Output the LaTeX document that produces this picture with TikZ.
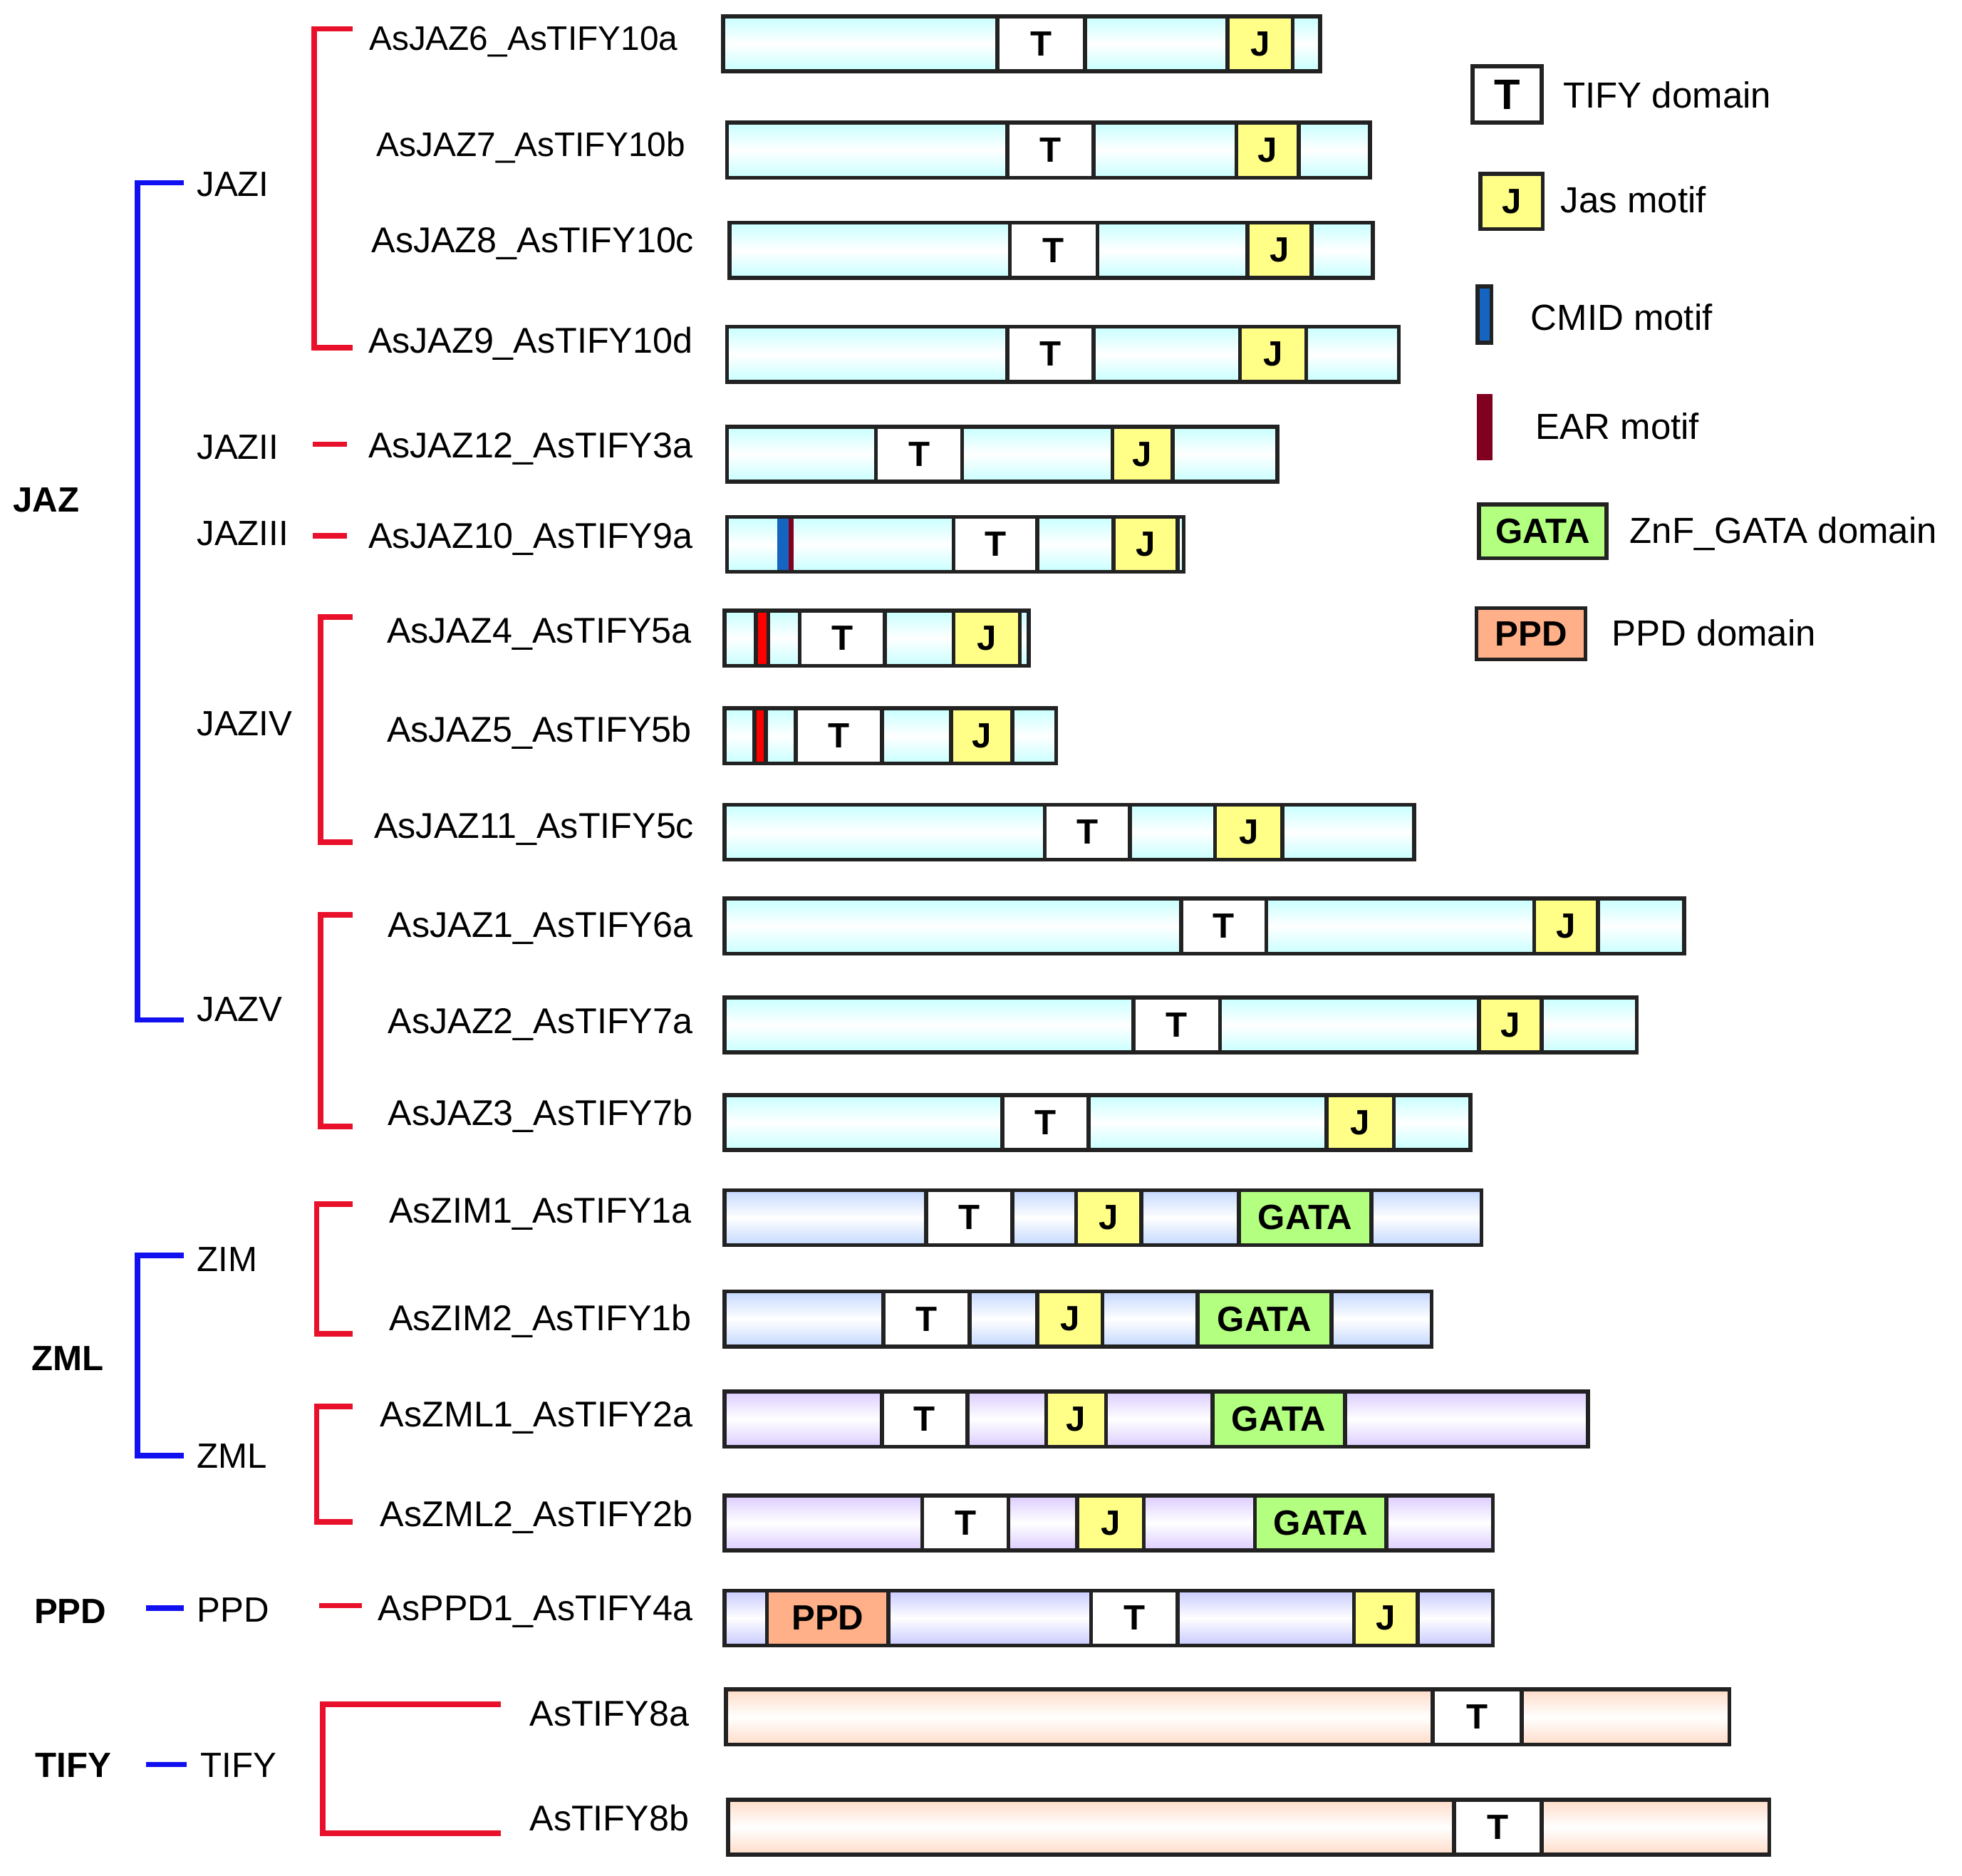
\documentclass[tikz,border=0pt]{standalone}
\usepackage{fontspec}
\setmainfont{Liberation Sans}
\definecolor{jazc}{HTML}{C8FFFF}
\definecolor{zimc}{HTML}{C4D8FF}
\definecolor{zmlc}{HTML}{DCCCFF}
\definecolor{ppdbarc}{HTML}{C8CAFF}
\definecolor{tifyc}{HTML}{FFDCC8}
\definecolor{jcol}{HTML}{FFFF88}
\definecolor{gatac}{HTML}{B3FF80}
\definecolor{ppdc}{HTML}{FFB088}
\definecolor{treered}{HTML}{E8102A}
\definecolor{treeblue}{HTML}{1010F0}
\definecolor{cmidc}{HTML}{1565C0}
\definecolor{earc}{HTML}{800020}
\definecolor{framec}{HTML}{222222}
\tikzset{
  frame/.style={draw=framec, line width=1.6pt},
  jazbar/.style={top color=jazc, bottom color=jazc, middle color=white},
  zimbar/.style={top color=zimc, bottom color=zimc, middle color=white},
  zmlbar/.style={top color=zmlc, bottom color=zmlc, middle color=white},
  ppdbar/.style={top color=ppdbarc, bottom color=ppdbarc, middle color=white},
  tifybar/.style={top color=tifyc, bottom color=tifyc, middle color=white},
  dtext/.style={font=\fontsize{14}{16}\selectfont\bfseries, inner sep=0},
  lab/.style={anchor=base east, font=\fontsize{14.3}{17}\selectfont, inner sep=0},
  labsmall/.style={anchor=base east, font=\fontsize{13.6}{16}\selectfont, inner sep=0},
  grp/.style={anchor=base west, font=\fontsize{14}{16}\selectfont, inner sep=0},
  fam/.style={anchor=base west, font=\fontsize{14}{16}\selectfont\bfseries, inner sep=0},
  leg/.style={anchor=base west, font=\fontsize{14.5}{17}\selectfont, inner sep=0},
  rtree/.style={draw=treered, line width=2.2pt},
  btree/.style={draw=treeblue, line width=2.2pt},
}
% #1 ytop, #2 x0, #3 x1, #4 style
\newcommand{\pbar}[4]{\shade[#4] (#2,#1) rectangle (#3,{#1+44});}
\newcommand{\pframe}[3]{\draw[frame] (#2,#1) rectangle (#3,{#1+44});}
% #1 ytop, #2 x0, #3 x1, #4 fill, #5 text
\newcommand{\dbox}[5]{\draw[frame, fill=#4] (#2,#1) rectangle (#3,{#1+44});
  \node[dtext] at ({(#2+#3)/2},{#1+22}) {#5};}
\newcommand{\motifbox}[4]{\draw[frame, fill=#4] (#2,#1) rectangle (#3,{#1+44});}
\begin{document}
\begin{tikzpicture}[x=0.017564cm, y=-0.017564cm]
\useasboundingbox (0,0) rectangle (1568,1499);

% ---------- bars ----------
\pbar{13}{578}{1055}{jazbar}\dbox{13}{797}{867}{white}{T}\dbox{13}{981}{1033}{jcol}{J}\pframe{13}{578}{1055}
\pbar{98}{581}{1095}{jazbar}\dbox{98}{805}{874}{white}{T}\dbox{98}{988}{1038}{jcol}{J}\pframe{98}{581}{1095}
\pbar{178}{583}{1097}{jazbar}\dbox{178}{807}{877}{white}{T}\dbox{178}{997}{1048}{jcol}{J}\pframe{178}{583}{1097}
\pbar{261}{581}{1118}{jazbar}\dbox{261}{805}{874}{white}{T}\dbox{261}{991}{1044}{jcol}{J}\pframe{261}{581}{1118}
\pbar{341}{581}{1021}{jazbar}\dbox{341}{700}{769}{white}{T}\dbox{341}{889}{937}{jcol}{J}\pframe{341}{581}{1021}
% R6
\pbar{413}{581}{946}{jazbar}
\fill[cmidc] (621,413) rectangle (630,457);
\fill[earc] (630,413) rectangle (634,457);
\dbox{413}{762}{829}{white}{T}\dbox{413}{890}{941}{jcol}{J}\pframe{413}{581}{946}
% R7
\pbar{488}{579}{822}{jazbar}\motifbox{488}{604}{614}{red}
\dbox{488}{639}{707}{white}{T}\dbox{488}{762}{815}{jcol}{J}\pframe{488}{579}{822}
% R8
\pbar{566}{579}{844}{jazbar}\motifbox{566}{603}{612}{red}
\dbox{566}{636}{705}{white}{T}\dbox{566}{760}{809}{jcol}{J}\pframe{566}{579}{844}
% R9-12
\pbar{643}{579}{1130}{jazbar}\dbox{643}{835}{903}{white}{T}\dbox{643}{971}{1025}{jcol}{J}\pframe{643}{579}{1130}
\pbar{718}{579}{1346}{jazbar}\dbox{718}{944}{1012}{white}{T}\dbox{718}{1226}{1277}{jcol}{J}\pframe{718}{579}{1346}
\pbar{797}{579}{1308}{jazbar}\dbox{797}{906}{975}{white}{T}\dbox{797}{1182}{1232}{jcol}{J}\pframe{797}{579}{1308}
\pbar{875}{579}{1175}{jazbar}\dbox{875}{801}{870}{white}{T}\dbox{875}{1060}{1114}{jcol}{J}\pframe{875}{579}{1175}
% ZIM
\pbar{951}{579}{1184}{zimbar}\dbox{951}{740}{809}{white}{T}\dbox{951}{860}{912}{jcol}{J}\dbox{951}{990}{1096}{gatac}{GATA}\pframe{951}{579}{1184}
\pbar{1032}{579}{1144}{zimbar}\dbox{1032}{706}{775}{white}{T}\dbox{1032}{829}{881}{jcol}{J}\dbox{1032}{957}{1064}{gatac}{GATA}\pframe{1032}{579}{1144}
% ZML
\pbar{1112}{579}{1269}{zmlbar}\dbox{1112}{705}{773}{white}{T}\dbox{1112}{836}{884}{jcol}{J}\dbox{1112}{969}{1075}{gatac}{GATA}\pframe{1112}{579}{1269}
\pbar{1195}{579}{1193}{zmlbar}\dbox{1195}{737}{806}{white}{T}\dbox{1195}{861}{914}{jcol}{J}\dbox{1195}{1003}{1108}{gatac}{GATA}\pframe{1195}{579}{1193}
% PPD
\pbar{1271}{579}{1193}{ppdbar}\dbox{1271}{613}{710}{ppdc}{PPD}\dbox{1271}{872}{941}{white}{T}\dbox{1271}{1082}{1133}{jcol}{J}\pframe{1271}{579}{1193}
% TIFY
\pbar{1350}{580}{1382}{tifybar}\dbox{1350}{1145}{1216}{white}{T}\pframe{1350}{580}{1382}
\pbar{1438}{582}{1414}{tifybar}\dbox{1438}{1162}{1232}{white}{T}\pframe{1438}{582}{1414}

% ---------- gene labels ----------
\node[labsmall] (g1) at (542,40) {AsJAZ6\_AsTIFY10a};
\node[labsmall] (g2) at (548,125) {AsJAZ7\_AsTIFY10b};
\node[lab] (g3) at (555,202) {AsJAZ8\_AsTIFY10c};
\node[lab] (g4) at (554,282) {AsJAZ9\_AsTIFY10d};
\node[lab] (g5) at (554,366) {AsJAZ12\_AsTIFY3a};
\node[lab] (g6) at (554,438) {AsJAZ10\_AsTIFY9a};
\node[lab] (g7) at (553,514) {AsJAZ4\_AsTIFY5a};
\node[lab] (g8) at (553,593) {AsJAZ5\_AsTIFY5b};
\node[lab] (g9) at (555,670) {AsJAZ11\_AsTIFY5c};
\node[lab] (g10) at (554,749) {AsJAZ1\_AsTIFY6a};
\node[lab] (g11) at (554,826) {AsJAZ2\_AsTIFY7a};
\node[lab] (g12) at (554,899) {AsJAZ3\_AsTIFY7b};
\node[lab] (g13) at (553,977) {AsZIM1\_AsTIFY1a};
\node[lab] (g14) at (553,1063) {AsZIM2\_AsTIFY1b};
\node[lab] (g15) at (554,1140) {AsZML1\_AsTIFY2a};
\node[lab] (g16) at (554,1220) {AsZML2\_AsTIFY2b};
\node[lab] (g17) at (554,1295) {AsPPD1\_AsTIFY4a};
\node[lab] (g18) at (551,1379) {AsTIFY8a};
\node[lab] (g19) at (551,1463) {AsTIFY8b};

% ---------- group labels ----------
\node[grp] (jaz1) at (157,157) {JAZI};
\node[grp] (jaz2) at (157,367) {JAZII};
\node[grp] (jaz3) at (157,436) {JAZIII};
\node[grp] (jaz4) at (157,588) {JAZIV};
\node[grp] (jaz5) at (157,816) {JAZV};
\node[grp] (zim) at (157,1016) {ZIM};
\node[grp] (zml) at (157,1173) {ZML};
\node[grp] (ppd) at (157,1296) {PPD};
\node[grp] (tify) at (160,1420) {TIFY};
\node[fam] (fjaz) at (10,409) {JAZ};
\node[fam] (fzml) at (25,1095) {ZML};
\node[fam] (fppd) at (27,1297) {PPD};
\node[fam] (ftify) at (28,1420) {TIFY};

% ---------- tree lines ----------
\draw[btree] (147,146) -- (110,146) -- (110,815) -- (147,815);
\draw[rtree] (282,23) -- (251,23) -- (251,278) -- (282,278);
\draw[rtree] (250,355) -- (277,355);
\draw[rtree] (250,428) -- (277,428);
\draw[rtree] (282,493) -- (256,493) -- (256,673) -- (282,673);
\draw[rtree] (282,731) -- (256,731) -- (256,900) -- (282,900);
\draw[btree] (147,1003) -- (110,1003) -- (110,1163) -- (147,1163);
\draw[rtree] (282,962) -- (253,962) -- (253,1066) -- (282,1066);
\draw[rtree] (282,1124) -- (253,1124) -- (253,1216) -- (282,1216);
\draw[btree] (117,1285) -- (147,1285);
\draw[rtree] (255,1283) -- (289,1283);
\draw[btree] (117,1410) -- (149,1410);
\draw[rtree] (400,1362) -- (258,1362) -- (258,1465) -- (400,1465);

% ---------- legend ----------
\draw[frame] (1177,53) rectangle (1232,98);
\node[font=\fontsize{17}{19}\selectfont\bfseries, inner sep=0] (lt) at (1204.5,75.5) {T};
\node[leg] (ltt) at (1249,86) {TIFY domain};
\draw[frame, fill=jcol] (1183,139) rectangle (1233,183);
\node[dtext] (lj) at (1208,161) {J};
\node[leg] (ljt) at (1247,170) {Jas motif};
\draw[frame, fill=cmidc] (1181,229) rectangle (1192,274);
\node[leg] (lct) at (1223,264) {CMID motif};
\fill[earc] (1180,315) rectangle (1193,368);
\node[leg] (let) at (1227,351) {EAR motif};
\draw[frame, fill=gatac] (1182,403) rectangle (1284,446);
\node[dtext] (lg) at (1233,424.5) {GATA};
\node[leg] (lgt) at (1302,434) {ZnF\_GATA domain};
\draw[frame, fill=ppdc] (1180,486) rectangle (1267,527);
\node[dtext] (lp) at (1223.5,506.5) {PPD};
\node[leg] (lpt) at (1288,516) {PPD domain};
\end{tikzpicture}
\end{document}
